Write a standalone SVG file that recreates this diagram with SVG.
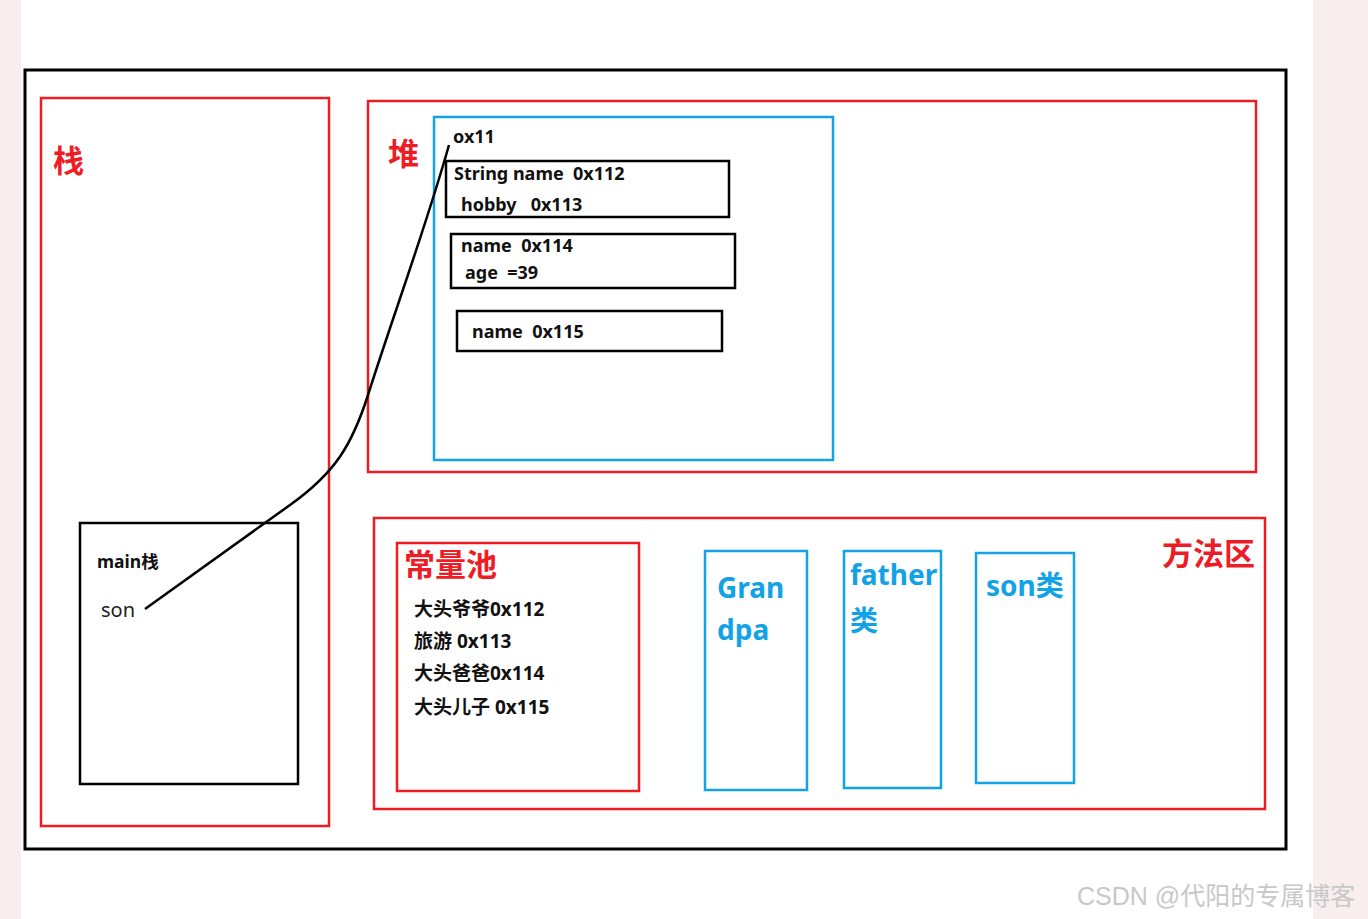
<svg xmlns="http://www.w3.org/2000/svg" width="1368" height="919" viewBox="0 0 1368 919">
<style>
text{white-space:pre}
.red{fill:none;stroke:#ee1c25;stroke-width:2.5}
.blue{fill:none;stroke:#12a3e6;stroke-width:2.5}
.blk{fill:none;stroke:#000;stroke-width:2.5}
.t{font-family:"Noto Sans","Noto Sans CJK SC",sans-serif;font-weight:bold;fill:#111}
.rt{font-family:"Noto Sans CJK SC",sans-serif;font-weight:bold;fill:#ee1c25}
.bt{font-family:"Noto Sans","Noto Sans CJK SC",sans-serif;font-weight:bold;fill:#12a3e6;font-size:28px}
</style>
<rect x="0" y="0" width="1368" height="919" fill="#fff"/>
<rect x="0" y="0" width="21" height="919" fill="#f7eeed"/>
<rect x="1313" y="0" width="55" height="919" fill="#f7eeed"/>
<rect x="25" y="70" width="1261" height="779" fill="none" stroke="#000" stroke-width="3"/>
<g id="stack">
<rect class="red" x="41" y="98" width="288" height="728"/>
<text class="rt" x="53" y="172" font-size="31">栈</text>
</g>
<g id="main-stack">
<rect class="blk" x="80" y="523" width="218" height="261"/>
<text class="t" x="97" y="568" font-size="17.5">main栈</text>
<text x="101" y="617" font-family="Noto Sans,sans-serif" font-size="20" fill="#222">son</text>
</g>
<g id="heap">
<rect class="red" x="368" y="101" width="888" height="371"/>
<text class="rt" x="388" y="165" font-size="31">堆</text>
</g>
<g id="object">
<rect class="blue" x="434" y="117" width="399" height="343"/>
<text class="t" x="453" y="143" font-size="18">ox11</text>
</g>
<g id="box1">
<rect class="blk" x="446" y="161" width="283" height="56"/>
<text class="t" x="454" y="180" font-size="18">String name  0x112</text>
<text class="t" x="461" y="211" font-size="18">hobby   0x113</text>
</g>
<g id="box2">
<rect class="blk" x="451" y="234" width="284" height="54"/>
<text class="t" x="461" y="252" font-size="18">name  0x114</text>
<text class="t" x="465" y="279" font-size="18">age  =39</text>
</g>
<g id="box3">
<rect class="blk" x="457" y="311" width="265" height="40"/>
<text class="t" x="472" y="338" font-size="18">name  0x115</text>
</g>
<g id="method-area">
<rect class="red" x="374" y="518" width="891" height="291"/>
<text class="rt" x="1162" y="565" font-size="31">方法区</text>
</g>
<g id="constant-pool">
<rect class="red" x="397" y="543" width="242" height="248"/>
<text class="rt" x="404" y="576" font-size="31">常量池</text>
<text class="t" x="414" y="616" font-size="19">大头爷爷0x112</text>
<text class="t" x="414" y="648" font-size="19">旅游 0x113</text>
<text class="t" x="414" y="680" font-size="19">大头爸爸0x114</text>
<text class="t" x="414" y="714" font-size="19">大头儿子 0x115</text>
</g>
<g id="grandpa">
<rect class="blue" x="705" y="551" width="102" height="239"/>
<text class="bt" x="717" y="598">Gran</text>
<text class="bt" x="717" y="640">dpa</text>
</g>
<g id="father">
<rect class="blue" x="844" y="551" width="97" height="237"/>
<text class="bt" x="850" y="585">father</text>
<text class="bt" x="850" y="631">类</text>
</g>
<g id="son-class">
<rect class="blue" x="976" y="553" width="98" height="230"/>
<text class="bt" x="986" y="596" font-size="29.5">son类</text>
</g>
<g id="connectors">
<path d="M145,609 L290,505 C335,473 352,445 368,395 C395,310 425,230 449,145" fill="none" stroke="#000" stroke-width="2.5"/>
</g>
<text x="1077" y="905" font-family="Liberation Sans,Noto Sans CJK SC,sans-serif" font-size="25" fill="#c8c8c8">CSDN @代阳的专属博客</text>
</svg>
